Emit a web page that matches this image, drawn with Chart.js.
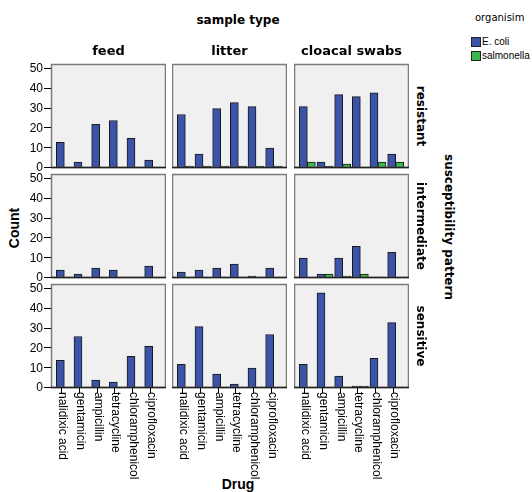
<!DOCTYPE html>
<html>
<head>
<meta charset="utf-8">
<script src="https://cdn.jsdelivr.net/npm/chart.js@4.4.0/dist/chart.umd.min.js"></script>
<style>
  body { margin: 0; background: #fff; }
  #wrap { position: relative; width: 532px; height: 492px; overflow: hidden; font-family: "Liberation Sans", Arial, sans-serif; color: #000; }
  #wrap canvas { position: absolute; }
  .t { position: absolute; white-space: nowrap; transform: translate(-50%, -50%); }
  .hdr { font: bold 13px "DejaVu Sans", sans-serif; }
  .row { font: bold 12px "DejaVu Sans", sans-serif; writing-mode: vertical-rl; }
  .ax { font: bold 14px "Liberation Sans", Arial, sans-serif; }
  .sw { position: absolute; width: 8px; height: 8px; border: 1px solid #222; }
  .lg { position: absolute; font: 10px "Liberation Sans", Arial, sans-serif; white-space: nowrap; }
</style>
</head>
<body>
<div id="wrap">
  <div class="t hdr" style="left:238px;top:20px;font-size:12px">sample type</div>
  <div class="t ax" style="left:238px;top:484px">Drug</div>
  <div class="t ax" style="left:14px;top:228px;transform:translate(-50%,-50%) rotate(-90deg)">Count</div>
  <div class="t row" style="left:449px;top:227px">susceptibility pattern</div>
  <div class="lg" style="left:475px;top:12px;font:10px 'DejaVu Sans',sans-serif">organisim</div>
  <div class="sw" style="left:471px;top:37px;background:#3b54a8"></div>
  <div class="lg" style="left:482px;top:36px">E. coli</div>
  <div class="sw" style="left:471px;top:51px;background:#3cb84b"></div>
  <div class="lg" style="left:482px;top:50px">salmonella</div>
</div>
<script>
const sampleTypes = ["feed", "litter", "cloacal swabs"];
const patterns = ["resistant", "intermediate", "sensitive"];
const drugs = ["nalidixic acid", "gentamicin", "ampicillin", "tetracycline", "chloramphenicol", "ciprofloxacin"];
const yTicks = [0, 10, 20, 30, 40, 50];

// one row per sample type: feed, litter, cloacal swabs
const ecoliResistant = [
  [13, 3, 22, 24, 15, 4],
  [27, 7, 30, 33, 31, 10],
  [31, 3, 37, 36, 38, 7],
];
const ecoliIntermediate = [
  [4, 2, 5, 4, 0, 6],
  [3, 4, 5, 7, 1, 5],
  [10, 2, 10, 16, 0, 13],
];
const ecoliSensitive = [
  [14, 26, 4, 3, 16, 21],
  [12, 31, 7, 2, 10, 27],
  [12, 48, 6, 1, 15, 33],
];
const salmonellaResistant = [
  [0, 0, 0, 0, 0, 0],
  [1, 1, 1, 1, 1, 1],
  [3, 1, 2, 0, 3, 3],
];
const salmonellaIntermediate = [
  [0, 0, 0, 0, 0, 0],
  [0, 0, 0, 0, 0, 0],
  [0, 2, 1, 2, 0, 0],
];
const salmonellaSensitive = [
  [0, 0, 0, 0, 0, 0],
  [0, 0, 0, 0, 0, 0],
  [0, 0, 0, 1, 0, 0],
];

const ecoliByPattern = [ecoliResistant, ecoliIntermediate, ecoliSensitive];
const salmonellaByPattern = [salmonellaResistant, salmonellaIntermediate, salmonellaSensitive];

const BLUE = "#3b54a8";
const GREEN = "#3cb84b";

// panel geometry (grey frames); bars sit in an area inset from the frame
const colLeft = [51, 172, 294];
const rowTop = [64, 174, 284];
const plotW = 115;
const plotH = 104;
const inset = 4.5;
const axisW = 32;
const padTop = 8;
const labelRoom = 100;

function frame(chart) {
  const a = chart.chartArea;
  return { left: a.left - inset, right: a.right + inset, top: a.top, bottom: a.bottom };
}

const panelPlugin = {
  id: "panel",
  beforeDatasetsDraw(chart) {
    const { ctx } = chart;
    const f = frame(chart);
    ctx.save();
    ctx.fillStyle = "#f0f0f0";
    ctx.fillRect(f.left, f.top, f.right - f.left, f.bottom - f.top);
    ctx.restore();
  },
  afterDatasetsDraw(chart) {
    const { ctx } = chart;
    const f = frame(chart);
    ctx.save();
    ctx.strokeStyle = "#7a7a7a";
    ctx.lineWidth = 1.5;
    ctx.strokeRect(f.left + 0.5, f.top + 0.5, f.right - f.left - 1, f.bottom - f.top - 1);
    ctx.strokeStyle = "#222";
    ctx.beginPath();
    ctx.moveTo(f.left, f.bottom - 0.5);
    ctx.lineTo(f.right, f.bottom - 0.5);
    ctx.stroke();
    ctx.restore();
  },
  afterDraw(chart) {
    const opts = chart.options.plugins.panel;
    const { ctx } = chart;
    const f = frame(chart);
    ctx.save();
    ctx.strokeStyle = "#000";
    ctx.fillStyle = "#000";
    ctx.lineWidth = 1;
    if (opts.yTicks) {
      const y = chart.scales.y;
      yTicks.forEach((v) => {
        const py = Math.round(y.getPixelForValue(v)) - 0.5;
        ctx.beginPath();
        ctx.moveTo(f.left - 7, py);
        ctx.lineTo(f.left, py);
        ctx.stroke();
      });
    }
    if (opts.drugLabels) {
      const x = chart.scales.x;
      ctx.font = "12px 'Liberation Sans', Arial, sans-serif";
      ctx.textBaseline = "middle";
      drugs.forEach((d, i) => {
        const px = Math.round(x.getPixelForValue(i));
        ctx.beginPath();
        ctx.moveTo(px - 2.5, f.bottom);
        ctx.lineTo(px - 2.5, f.bottom + 5);
        ctx.stroke();
        ctx.save();
        ctx.translate(px - 2, f.bottom + 4);
        ctx.rotate(Math.PI / 2);
        ctx.fillText(d, 0, 0);
        ctx.restore();
      });
    }
    ctx.restore();
  },
};

const wrap = document.getElementById("wrap");

function makePanel(r, c) {
  const hasAxis = c === 0;
  const bottomRow = r === patterns.length - 1;
  const left = colLeft[c] - (hasAxis ? axisW : 0);
  const top = rowTop[r] - padTop;
  const width = plotW + (hasAxis ? axisW : 0);
  const height = plotH + padTop + (bottomRow ? labelRoom : padTop);

  const canvas = document.createElement("canvas");
  canvas.width = width;
  canvas.height = height;
  canvas.style.left = left + "px";
  canvas.style.top = top + "px";
  wrap.appendChild(canvas);

  const borderW = (ctx) => (ctx.raw > 0 ? 1 : 0);

  new Chart(canvas, {
    type: "bar",
    data: {
      labels: drugs,
      datasets: [
        {
          label: "E. coli",
          data: ecoliByPattern[r][c],
          backgroundColor: BLUE,
          borderColor: "#1a1a1a",
          borderWidth: borderW,
        },
        {
          label: "salmonella",
          data: salmonellaByPattern[r][c],
          backgroundColor: GREEN,
          borderColor: "#1a1a1a",
          borderWidth: borderW,
        },
      ],
    },
    options: {
      responsive: false,
      animation: false,
      devicePixelRatio: 1,
      layout: {
        padding: {
          left: hasAxis ? 0 : inset,
          right: inset,
          top: padTop,
          bottom: bottomRow ? labelRoom : padTop,
        },
      },
      datasets: { bar: { barThickness: 8, borderSkipped: false } },
      plugins: {
        legend: { display: false },
        tooltip: { enabled: false },
        panel: { drugLabels: bottomRow, yTicks: hasAxis },
      },
      scales: {
        x: { display: false, offset: true },
        y: {
          display: hasAxis,
          min: 0,
          max: 52.5,
          afterFit: (s) => { s.width = hasAxis ? axisW + inset : 0; },
          afterBuildTicks: (s) => { s.ticks = yTicks.map((v) => ({ value: v })); },
          border: { display: false },
          // tick marks are drawn by the panel plugin at the frame edge
          grid: { drawOnChartArea: false, drawTicks: true, tickLength: inset + 8, color: "rgba(0,0,0,0)" },
          ticks: {
            color: "#000",
            padding: 0,
            font: { family: "'Liberation Sans', Arial, sans-serif", size: 12 },
          },
        },
      },
    },
    plugins: [panelPlugin],
  });
}

patterns.forEach((p, r) => sampleTypes.forEach((s, c) => makePanel(r, c)));

// facet headings
sampleTypes.forEach((s, c) => {
  const d = document.createElement("div");
  d.className = "t hdr";
  d.style.left = colLeft[c] + plotW / 2 + "px";
  d.style.top = "50px";
  d.textContent = s;
  wrap.appendChild(d);
});
patterns.forEach((p, r) => {
  const d = document.createElement("div");
  d.className = "t row";
  d.style.left = "421px";
  d.style.top = rowTop[r] + plotH / 2 + "px";
  d.textContent = p;
  wrap.appendChild(d);
});
</script>
</body>
</html>
